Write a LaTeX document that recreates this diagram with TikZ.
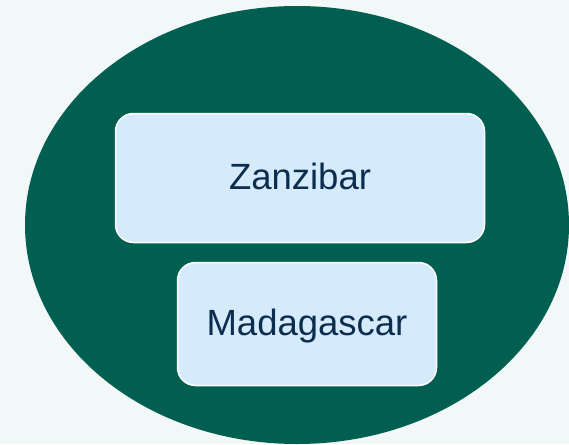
\documentclass[tikz,border=0pt]{standalone}
\usepackage{fontspec}
\setmainfont{Liberation Sans}
\definecolor{bgcol}{HTML}{F2F8F8}
\definecolor{islandgreen}{HTML}{005F50}
\definecolor{boxfill}{HTML}{D5EBFC}
\definecolor{boxtext}{HTML}{0C2D4E}
\begin{document}
\begin{tikzpicture}[x=1pt,y=-1pt,
	island/.style={draw=white,line width=1.5pt,fill=boxfill,rounded corners=18pt,
		text=boxtext,font=\fontsize{36.5}{40}\selectfont,text height=26pt,text depth=3.5pt}]
	\fill[bgcol] (0,0) rectangle (569,444);
	\useasboundingbox (0,0) rectangle (569,444);
	\clip (0,0) rectangle (569,444);
	% outer ellipse
	\fill[islandgreen] (297,225) ellipse (272 and 219);
	\node[island,minimum width=369pt,minimum height=129pt] (zanzibar) at (300,178) {Zanzibar};
	\node[island,minimum width=259pt,minimum height=123pt] (madagascar) at (307,324) {Madagascar};
\end{tikzpicture}
\end{document}
